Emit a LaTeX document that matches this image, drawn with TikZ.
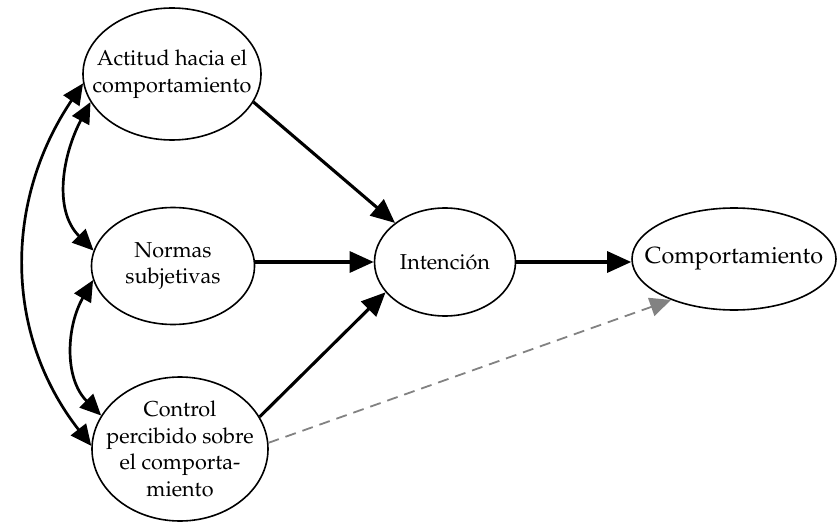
\documentclass[tikz,border=0pt]{standalone}
\usepackage[T1]{fontenc}
\usepackage{mathpazo}
\usetikzlibrary{shapes.geometric,arrows.meta}
\begin{document}
\begin{tikzpicture}[x=1pt,y=-1pt,
  ell/.style={ellipse,draw,line width=1.6pt,inner sep=-60pt,align=center,
    font=\fontsize{21.6}{26.5}\selectfont},
  arr/.style={line width=3.1pt,-{Triangle[length=24pt,width=21pt]}},
  bi/.style={line width=2.7pt,{Triangle[length=21pt,width=19pt]}-{Triangle[length=21pt,width=19pt]}},
  dsh/.style={line width=1.8pt,draw={rgb,255:red,130;green,130;blue,130},dash pattern=on 11pt off 7pt,
    -{Triangle[length=21pt,width=19pt,fill={rgb,255:red,130;green,130;blue,130}]}}]
\useasboundingbox (0,0) rectangle (838,524);
\node[ell,minimum width=178pt,minimum height=132pt] (act) at (172,74) {Actitud hacia el\\comportamiento};
\node[ell,minimum width=163pt,minimum height=117pt] (nor) at (173,266) {Normas\\subjetivas};
\node[ell,minimum width=176pt,minimum height=144pt] (ctl) at (180,449) {Control\\percibido sobre\\el comporta-\\miento};
\node[ell,minimum width=141pt,minimum height=108pt] (int) at (445,262) {Intenci\'on};
\node[ell,minimum width=204pt,minimum height=102pt,font=\fontsize{23.4}{28}\selectfont] (com) at (734,259) {Comportamiento};
\draw[arr] (act.-19) -- (int.142);
\draw[arr] (nor.east |- int.west) -- (int.west);
\draw[arr] (ctl.22) -- (int.207);
\draw[arr] (int.east) -- (int.east -| com.west);
\draw[dsh] (ctl.4) -- (com.213);
\draw[bi] (act.186) to[out=236,in=128,looseness=1.0] (ctl.178);
\draw[bi] (act.199) to[out=242,in=135] (nor.169);
\draw[bi] (nor.190) to[out=240,in=135] (ctl.157);
\end{tikzpicture}
\end{document}
